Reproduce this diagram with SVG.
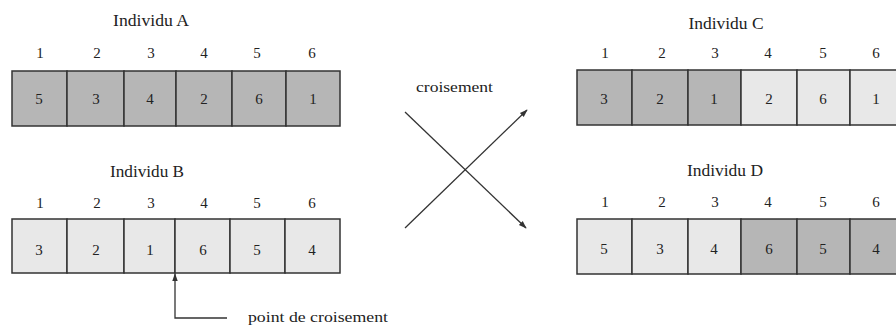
<svg xmlns="http://www.w3.org/2000/svg" width="896" height="327" viewBox="0 0 896 327">
<defs>
<style>
text{font-family:"Liberation Serif","Times New Roman",serif;fill:#222;}
.t{font-size:16px;text-anchor:middle;}
.n{font-size:15px;text-anchor:middle;}
.d{fill:#b6b6b6;stroke:#333;stroke-width:1.5;}
.l{fill:#e8e8e8;stroke:#333;stroke-width:1.5;}
.c{stroke:#333;stroke-width:1.3;fill:none;}
</style>
<marker id="ah" viewBox="0 0 10 10" refX="9" refY="5" markerWidth="8" markerHeight="8" orient="auto-start-reverse" markerUnits="userSpaceOnUse">
<path d="M0,1.5 L10,5 L0,8.5 Z" fill="#333"/>
</marker>
</defs>
<rect width="896" height="327" fill="#fff"/>

<g id="individuA">
<text class="t" x="151" y="26" textLength="76" lengthAdjust="spacingAndGlyphs">Individu A</text>
<text class="n" x="40" y="58">1</text><text class="n" x="97" y="58">2</text><text class="n" x="151" y="58">3</text><text class="n" x="204" y="58">4</text><text class="n" x="257" y="58">5</text><text class="n" x="312" y="58">6</text>
<rect class="d" x="12" y="71" width="55" height="55"/><rect class="d" x="67" y="71" width="57" height="55"/><rect class="d" x="124" y="71" width="52" height="55"/><rect class="d" x="176" y="71" width="56" height="55"/><rect class="d" x="232" y="71" width="54" height="55"/><rect class="d" x="286" y="71" width="54" height="55"/>
<text class="n" x="39" y="104">5</text><text class="n" x="96" y="104">3</text><text class="n" x="150" y="104">4</text><text class="n" x="204" y="104">2</text><text class="n" x="259" y="104">6</text><text class="n" x="313" y="104">1</text>
</g>

<g id="individuB">
<text class="t" x="147" y="177" textLength="74" lengthAdjust="spacingAndGlyphs">Individu B</text>
<text class="n" x="40" y="208">1</text><text class="n" x="97" y="208">2</text><text class="n" x="151" y="208">3</text><text class="n" x="204" y="208">4</text><text class="n" x="257" y="208">5</text><text class="n" x="312" y="208">6</text>
<rect class="l" x="12" y="219" width="55" height="54"/><rect class="l" x="67" y="219" width="57" height="54"/><rect class="l" x="124" y="219" width="51" height="54"/><rect class="l" x="175" y="219" width="55" height="54"/><rect class="l" x="230" y="219" width="55" height="54"/><rect class="l" x="285" y="219" width="55" height="54"/>
<text class="n" x="39" y="255">3</text><text class="n" x="96" y="255">2</text><text class="n" x="150" y="255">1</text><text class="n" x="203" y="255">6</text><text class="n" x="257" y="255">5</text><text class="n" x="312" y="255">4</text>
</g>

<g id="individuC">
<text class="t" x="726" y="29" textLength="75" lengthAdjust="spacingAndGlyphs">Individu C</text>
<text class="n" x="605" y="58">1</text><text class="n" x="662" y="58">2</text><text class="n" x="715" y="58">3</text><text class="n" x="768" y="58">4</text><text class="n" x="823" y="58">5</text><text class="n" x="876" y="58">6</text>
<rect class="d" x="577" y="70" width="55" height="55"/><rect class="d" x="632" y="70" width="56" height="55"/><rect class="d" x="688" y="70" width="53" height="55"/><rect class="l" x="741" y="70" width="56" height="55"/><rect class="l" x="797" y="70" width="53" height="55"/><rect class="l" x="850" y="70" width="54" height="55"/>
<text class="n" x="604" y="104">3</text><text class="n" x="660" y="104">2</text><text class="n" x="714" y="104">1</text><text class="n" x="769" y="104">2</text><text class="n" x="823" y="104">6</text><text class="n" x="876" y="104">1</text>
</g>

<g id="individuD">
<text class="t" x="725" y="176" textLength="76" lengthAdjust="spacingAndGlyphs">Individu D</text>
<text class="n" x="605" y="207">1</text><text class="n" x="662" y="207">2</text><text class="n" x="715" y="207">3</text><text class="n" x="768" y="207">4</text><text class="n" x="823" y="207">5</text><text class="n" x="876" y="207">6</text>
<rect class="l" x="577" y="219" width="55" height="55"/><rect class="l" x="632" y="219" width="56" height="55"/><rect class="l" x="688" y="219" width="53" height="55"/><rect class="d" x="741" y="219" width="56" height="55"/><rect class="d" x="797" y="219" width="53" height="55"/><rect class="d" x="850" y="219" width="54" height="55"/>
<text class="n" x="604" y="254">5</text><text class="n" x="660" y="254">3</text><text class="n" x="714" y="254">4</text><text class="n" x="769" y="254">6</text><text class="n" x="823" y="254">5</text><text class="n" x="876" y="254">4</text>
</g>

<g id="connectors">
<text x="416" y="92" style="font-size:15px" textLength="77" lengthAdjust="spacingAndGlyphs">croisement</text>
<line class="c" x1="405" y1="112" x2="526" y2="228" marker-end="url(#ah)"/>
<line class="c" x1="405" y1="228" x2="527" y2="110" marker-end="url(#ah)"/>
<polyline class="c" points="227,318 175,318 175,274" marker-end="url(#ah)"/>
<text x="248" y="322" style="font-size:15px" textLength="140" lengthAdjust="spacingAndGlyphs">point de croisement</text>
</g>
</svg>
